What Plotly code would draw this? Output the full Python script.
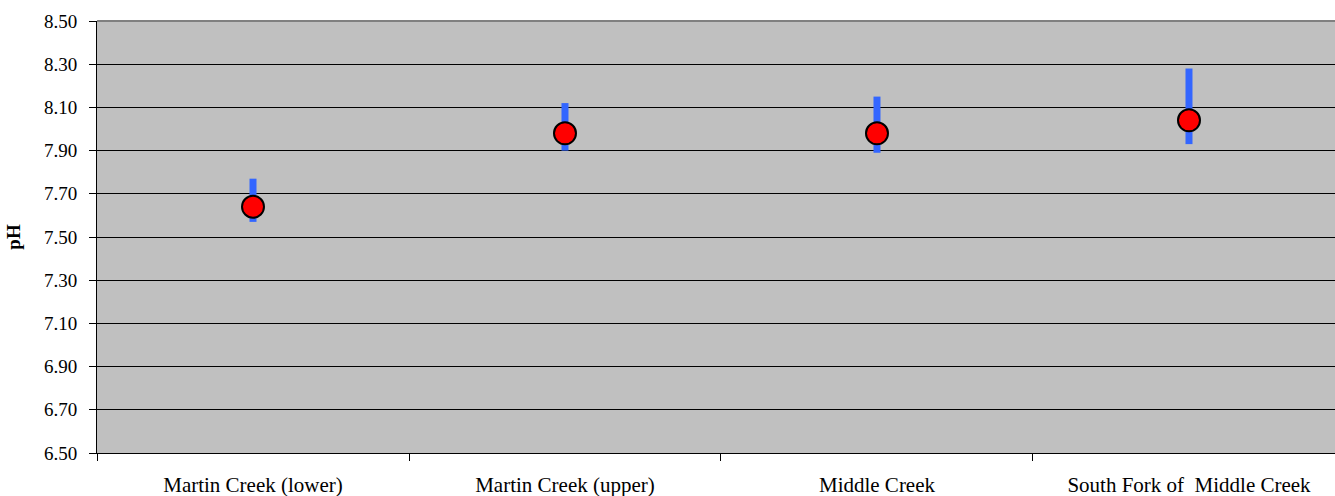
import numpy as np
import plotly.graph_objects as go

sites = ["Martin Creek (lower)", "Martin Creek (upper)", "Middle Creek", "South Fork of  Middle Creek"]
ph_mean = [7.64, 7.98, 7.98, 8.04]
ph_min = [7.57, 7.90, 7.89, 7.93]
ph_max = [7.77, 8.12, 8.15, 8.28]
y_ticks = [6.50, 6.70, 6.90, 7.10, 7.30, 7.50, 7.70, 7.90, 8.10, 8.30, 8.50]

mean = np.array(ph_mean)
plus = np.array(ph_max) - mean
minus = mean - np.array(ph_min)

fig = go.Figure()
fig.add_trace(go.Scatter(
    x=sites, y=ph_mean, mode="markers",
    marker=dict(color="#FF0000", size=22, line=dict(color="#000000", width=2)),
    error_y=dict(type="data", array=plus, arrayminus=minus, symmetric=False,
                 color="#3366FF", thickness=7, width=0),
    showlegend=False,
))

font = "Liberation Serif, Times New Roman, serif"
fig.update_layout(
    width=1335, height=496,
    margin=dict(l=97, r=0, t=21, b=43),
    paper_bgcolor="#FFFFFF", plot_bgcolor="#C0C0C0",
    font=dict(family=font, size=19, color="#000000"),
    shapes=[dict(type="line", xref="paper", yref="paper", x0=0, x1=1, y0=1, y1=1,
                 line=dict(color="#808080", width=2), layer="above")],
)
fig.update_xaxes(
    type="category", categoryorder="array", categoryarray=sites,
    range=[-0.5, 3.468], tickson="boundaries", ticks="outside", ticklen=7,
    tickcolor="#000000", showline=True, linecolor="#000000", linewidth=1,
    showgrid=False, zeroline=False, ticklabelstandoff=13,
    tickfont=dict(family=font, size=21),
)
fig.update_yaxes(
    range=[6.5, 8.5], tickvals=y_ticks, ticktext=[f"{v:.2f}" for v in y_ticks],
    ticks="outside", ticklen=7, tickcolor="#000000",
    showline=True, linecolor="#000000", linewidth=1,
    showgrid=True, gridcolor="#000000", gridwidth=1, zeroline=False,
    ticklabelstandoff=8, tickfont=dict(family=font, size=19),
    title=dict(text="<b>pH</b>", font=dict(family=font, size=19), standoff=18),
)
fig.write_html(
    "out.html",
    config={"displayModeBar": False},
    post_script="document.body.style.margin='0';document.body.style.overflow='hidden';",
)
